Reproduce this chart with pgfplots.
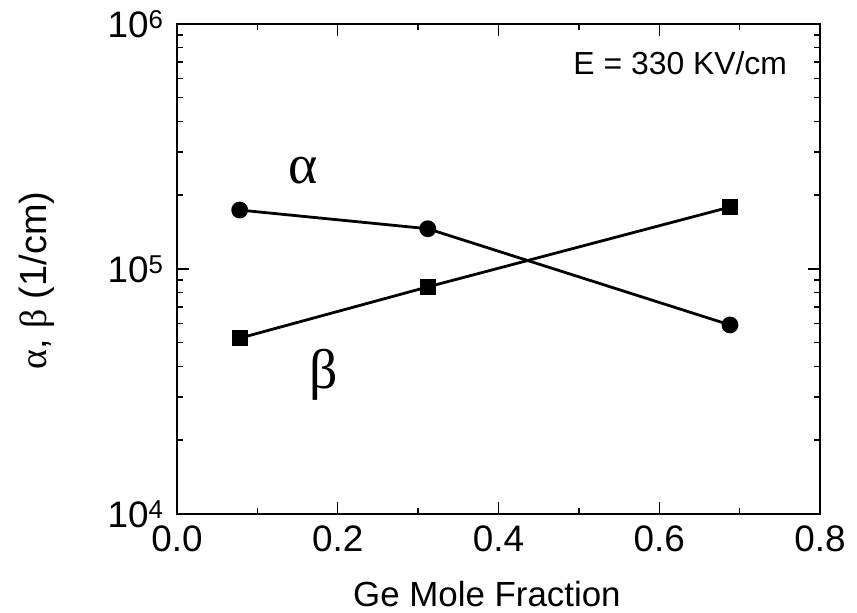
\documentclass[border=0pt]{standalone}
\usepackage{fontspec}
\setmainfont{Liberation Sans}
\newfontfamily\grk{Liberation Serif}
\usepackage{pgfplots}
\pgfplotsset{compat=1.18}
\begin{document}
\begin{tikzpicture}
\path[use as bounding box] (-177bp,-99bp) rectangle (680bp,514bp);
\begin{axis}[
  at={(0,0)}, anchor=south west,
  scale only axis, width=643bp, height=490bp,
  xmin=0, xmax=0.8, ymode=log, ymin=1e4, ymax=1e6,
  xtick={0,0.2,0.4,0.6,0.8},
  xticklabels={0.0,0.2,0.4,0.6,0.8},
  minor xtick={0.1,0.3,0.5,0.7},
  ytick={1e4,1e5,1e6},
  yticklabels={10\textsuperscript{4},10\textsuperscript{5},10\textsuperscript{6}},
  minor ytick={2e4,3e4,4e4,5e4,6e4,7e4,8e4,9e4,2e5,3e5,4e5,5e5,6e5,7e5,8e5,9e5},
  axis line style={line width=2bp},
  major tick length=12bp, minor tick length=6bp,
  every tick/.style={black, line width=1.5bp},
  tick label style={font=\fontsize{37}{40}\selectfont},
  xticklabel style={yshift=-8bp},
  yticklabel style={xshift=-10bp},
  xlabel={Ge Mole Fraction},
  xlabel style={at={(axis description cs:0.482,-0.188)}, anchor=base, inner sep=0pt, font=\fontsize{35}{40}\selectfont},
  ylabel={{\grk α}, {\grk β} (1/cm)},
  ylabel style={at={(axis description cs:-0.218,0.476)}, anchor=center, font=\fontsize{38}{42}\selectfont},
  clip=false,
]
\addplot[black, line width=2.8bp, mark=*, mark size=7bp] coordinates {
  (0.078,1.74e5) (0.312,1.46e5) (0.688,5.91e4)
};
\addplot[black, line width=2.8bp, mark=square*, mark size=6.5bp] coordinates {
  (0.078,5.22e4) (0.312,8.45e4) (0.688,1.79e5)
};
\node[font=\grk\fontsize{56}{60}\selectfont] at (axis cs:0.157,2.53e5) {α};
\node[font=\grk\fontsize{56}{60}\selectfont] at (axis cs:0.182,3.69e4) {β};
\node[anchor=base east, inner sep=0pt, font=\fontsize{32}{36}\selectfont] at (rel axis cs:0.949,0.896) {E = 330 KV/cm};
\end{axis}
\end{tikzpicture}
\end{document}
